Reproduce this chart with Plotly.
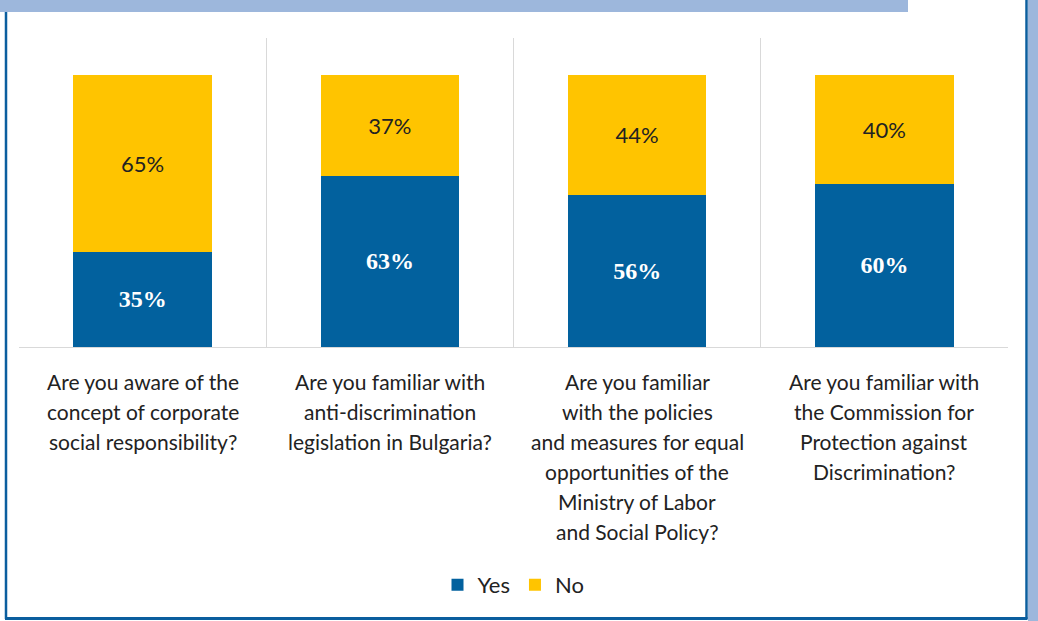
import plotly.graph_objects as go

# Survey questions (category axis) and answer shares in percent
questions = [
    "Are you aware of the<br>concept of corporate<br>social responsibility?",
    "Are you familiar with<br>anti-discrimination<br>legislation in Bulgaria?",
    "Are you familiar<br>with the policies<br>and measures for equal<br>opportunities of the<br>Ministry of Labor<br>and Social Policy?",
    "Are you familiar with<br>the Commission for<br>Protection against<br>Discrimination?",
]
yes_share = [35, 63, 56, 60]
no_share = [65, 37, 44, 40]

W, H = 1038, 621
M_L, M_R, M_T, M_B = 19, 30, 38, 274
PW, PH = W - M_L - M_R, H - M_T - M_B

BLUE = "#02619E"
YELLOW = "#FFC400"
FRAME = "#0B5E9E"
LIGHT = "#9DB7DC"
TEXT = "#222222"
SANS = "Lato, 'Open Sans', sans-serif"
SERIF = "'Liberation Serif', 'DejaVu Serif', serif"


def px(x):
    return (x - M_L) / PW


def py(y):
    return (H - M_B - y) / PH


fig = go.Figure()
fig.add_trace(go.Bar(
    name="Yes", x=questions, y=yes_share, marker_color=BLUE,
    marker_line_width=0,
    texttemplate="%{y}%", textposition="inside", insidetextanchor="middle",
    textangle=0,
    textfont=dict(family=SERIF, size=24, color="white", weight="bold"),
))
fig.add_trace(go.Bar(
    name="No", x=questions, y=no_share, marker_color=YELLOW,
    marker_line_width=0,
    texttemplate="%{y}%", textposition="inside", insidetextanchor="middle",
    textangle=0,
    textfont=dict(family=SANS, size=22, color=TEXT),
))

# Category captions under each bar, one line per annotation for wider leading
for q in questions:
    for i, line in enumerate(q.split("<br>")):
        fig.add_annotation(
            x=q, xref="x", y=py(381 + 30 * i), yref="paper",
            text=line, showarrow=False, yanchor="middle", xanchor="center",
            font=dict(family=SANS, size=21, color=TEXT),
        )

# Page frame: top band, left/right/bottom rules, right side strip
frame_shapes = [
    dict(type="rect", x0=px(1028), x1=px(1038), y0=py(621), y1=py(0),
         fillcolor=LIGHT, line_width=0),
    dict(type="line", x0=px(6), x1=px(6), y0=py(12), y1=py(619),
         line=dict(color=FRAME, width=2.5)),
    dict(type="line", x0=px(1026.5), x1=px(1026.5), y0=py(0), y1=py(619),
         line=dict(color=FRAME, width=2.5)),
    dict(type="line", x0=px(5), x1=px(1027.5), y0=py(618.5), y1=py(618.5),
         line=dict(color=FRAME, width=3)),
    dict(type="rect", x0=px(0), x1=px(908), y0=py(12), y1=py(0),
         fillcolor=LIGHT, line_width=0),
]
for s in frame_shapes:
    s.update(xref="paper", yref="paper", layer="above")
    fig.add_shape(**s)

fig.update_layout(
    width=W, height=H,
    margin=dict(l=M_L, r=M_R, t=M_T, b=M_B, pad=0),
    barmode="stack", bargap=0.44,
    plot_bgcolor="white", paper_bgcolor="white",
    font=dict(family=SANS, color=TEXT, size=21),
    legend=dict(
        orientation="h", x=0.5, xanchor="center",
        y=py(585), yanchor="middle",
        font=dict(family=SANS, size=22, color=TEXT),
        itemwidth=30, traceorder="normal",
    ),
    xaxis=dict(
        type="category", tickson="boundaries", showgrid=True,
        gridcolor="#D9D9D9", gridwidth=1,
        showline=True, linecolor="#D9D9D9", linewidth=1,
        ticks="", showticklabels=False,
    ),
    yaxis=dict(range=[0, 113.6], visible=False, showgrid=False),
)

fig.write_html("out.html")
